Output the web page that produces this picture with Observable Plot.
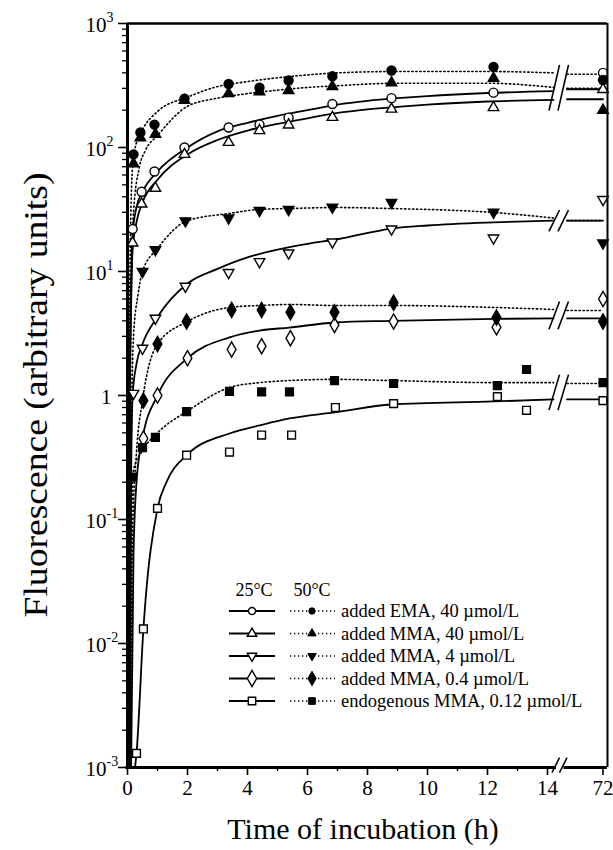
<!DOCTYPE html>
<html><head><meta charset="utf-8">
<script src="https://cdn.jsdelivr.net/npm/d3@7"></script>
<script src="https://cdn.jsdelivr.net/npm/@observablehq/plot@0.6"></script>
<style>body{margin:0;background:#fff}#chart{width:613px;height:850px}</style>
</head><body><div id="chart"></div>
<script>
// ---------- DATA ----------
// measured points: [time (h), fluorescence]
const ema40_25 = [[0.17,22],[0.47,44],[0.9,64],[1.9,100],[3.37,145],[4.4,153],[5.37,174],[6.83,224],[8.8,250],[12.2,277],[72,400]];
const ema40_50 = [[0.2,88],[0.43,132],[0.9,153],[1.9,248],[3.37,325],[4.4,303],[5.37,347],[6.83,375],[8.8,418],[12.2,447],[72,350]];
const mma40_25 = [[0.17,17],[0.47,35],[0.93,47],[1.9,88],[3.37,110],[4.4,137],[5.37,152],[6.83,175],[8.8,204],[12.2,210],[72,294]];
const mma40_50 = [[0.2,74],[0.43,120],[0.93,128],[1.9,240],[3.37,272],[4.4,282],[5.37,288],[6.83,310],[8.8,333],[12.2,362],[72,200]];
const mma4_25 = [[0.2,1.04],[0.5,2.4],[0.93,4.2],[1.93,7.6],[3.37,9.8],[4.4,12],[5.37,14.1],[6.83,17.3],[8.8,22],[12.2,18.6],[72,38]];
const mma4_50 = [[0.5,10],[0.93,15],[1.93,25.6],[3.37,27],[4.4,31],[5.37,31.6],[6.83,33],[8.8,36],[12.2,30],[72,17]];
const mma04_25 = [[0.53,0.45],[1.0,1.0],[2.0,2.0],[3.47,2.35],[4.47,2.5],[5.43,2.9],[6.9,3.7],[8.87,3.95],[12.3,3.55],[72,6]];
const mma04_50 = [[0.53,0.91],[1.0,2.6],[1.97,3.95],[3.47,4.9],[4.47,4.9],[5.43,4.7],[6.9,4.7],[8.87,5.6],[12.3,4.25],[72,3.95]];
const endo_25 = [[0.3,0.0013],[0.53,0.0131],[1.0,0.123],[1.97,0.33],[3.4,0.35],[4.47,0.48],[5.47,0.48],[6.93,0.80],[8.87,0.86],[12.33,0.98],[13.3,0.76],[72,0.91]];
const endo_50 = [[0.17,0.22],[0.5,0.38],[0.93,0.46],[1.97,0.74],[3.4,1.08],[4.47,1.07],[5.4,1.07],[6.9,1.32],[8.87,1.25],[12.33,1.2],[13.3,1.62],[72,1.27]];

// fitted curves (before and after the axis break)
const fitEma40_25 = [[0.03,0.001],[0.08,1.5],[0.12,8],[0.17,20],[0.3,33],[0.5,44],[1,64],[2,100],[3,135],[4,158],[5,180],[6,200],[7,222],[8,238],[9,250],[10,260],[12,275],[14.2,285],[14.65,295],[72,295]];
const fitMma40_25 = [[0.04,0.001],[0.09,1.5],[0.13,7],[0.17,15],[0.3,25],[0.5,36],[1,55],[2,88],[3,115],[4,137],[5,155],[6,172],[7,190],[8,203],[9,213],[10,222],[12,235],[14.2,242],[14.65,245],[72,245]];
const fitEma40_50 = [[0.02,0.001],[0.06,2],[0.1,20],[0.17,70],[0.3,110],[0.5,140],[1,195],[2,255],[3,310],[4,340],[5,365],[6,385],[7,400],[9,410],[12,410],[14.2,400],[14.65,390],[72,390]];
const fitMma40_50 = [[0.05,0.001],[0.1,2],[0.2,30],[0.4,70],[0.6,95],[1,125],[2,215],[3,250],[4,272],[5,290],[6,305],[7,315],[9,330],[12,330],[14.2,305],[14.65,300],[72,300]];
const fitMma4_25 = [[0.08,0.001],[0.12,0.2],[0.17,1.0],[0.3,1.8],[0.5,2.6],[1,4.3],[2,8.0],[3,10.5],[4,13],[5,15],[6,16.7],[7,18.2],[8.8,22.2],[10,23.5],[12.2,24.9],[14.2,25.7],[14.65,25.7],[72,25.7]];
const fitMma4_50 = [[0.07,0.001],[0.12,0.3],[0.2,3],[0.35,6.5],[0.5,10],[1,15.3],[2,25.7],[3.4,29.4],[4.4,31.7],[5.4,32.2],[6.9,32.8],[8.8,32.2],[12.2,29.9],[14.2,27],[14.65,25.7],[72,25.7]];
const fitMma04_25 = [[0.12,0.001],[0.2,0.05],[0.3,0.2],[0.5,0.45],[1,1.0],[2,2.0],[3.4,2.94],[4.4,3.34],[5.4,3.53],[6.9,3.88],[8.8,4.0],[12.2,4.15],[14.2,4.18],[14.65,4.18],[72,4.18]];
const fitMma04_50 = [[0.1,0.001],[0.17,0.08],[0.3,0.35],[0.5,0.91],[1,2.6],[2,3.95],[3.4,5.13],[4.4,5.32],[5.4,5.42],[6.9,5.32],[8.8,5.32],[12.2,5.13],[14.2,4.94],[14.65,4.85],[72,4.85]];
const fitEndo_25 = [[0.25,0.001],[0.3,0.0013],[0.53,0.0131],[1.0,0.123],[1.3,0.2],[1.97,0.33],[3.4,0.494],[4.4,0.573],[5.4,0.653],[6.9,0.73],[8.8,0.846],[12.2,0.895],[14.2,0.93],[14.65,0.93],[72,0.93]];
const fitEndo_50 = [[0.08,0.001],[0.14,0.1],[0.2,0.25],[0.5,0.36],[1,0.5],[2,0.75],[3.4,1.16],[4.4,1.27],[5.4,1.32],[6.9,1.35],[8.8,1.32],[12.2,1.27],[14.2,1.27],[14.65,1.25],[72,1.25]];

const legendLabels = ["added EMA, 40 \u00b5mol/L","added MMA, 40 \u00b5mol/L","added MMA, 4 \u00b5mol/L","added MMA, 0.4 \u00b5mol/L","endogenous MMA, 0.12 \u00b5mol/L"];
const xTickTimes = [0,2,4,6,8,10,12,14,72];
const xTickLabels = ["0","2","4","6","8","10","12","14","72"];
const xMinorTimes = [1,3,5,7,9,11,13];
const yMajor = [1e-3,1e-2,1e-1,1,10,100,1000];
const yBase = ["10","10","10","1","10","10","10"];
const yExp = ["-3","-2","-1","","1","2","3"];

// ---------- layout ----------
const SERIF = "'Liberation Serif','Times New Roman',serif";
const X72 = 15.85;               // position of the 72 h point after the axis break
const xv = t => t > 20 ? X72 : t;
const triDown = {draw(ctx, size){ const y = -Math.sqrt(size/(Math.sqrt(3)*3)); ctx.moveTo(0,-y*2); ctx.lineTo(-Math.sqrt(3)*y, y); ctx.lineTo(Math.sqrt(3)*y, y); ctx.closePath(); }};
const symbols = ["circle","triangle",triDown,"diamond","square"];
const radii = [4.5,3.9,3.9,4.6,4.4];

const series = [
  {pts: ema40_25, fit: fitEma40_25, k:0, hot:false},
  {pts: ema40_50, fit: fitEma40_50, k:0, hot:true},
  {pts: mma40_25, fit: fitMma40_25, k:1, hot:false},
  {pts: mma40_50, fit: fitMma40_50, k:1, hot:true},
  {pts: mma4_25, fit: fitMma4_25, k:2, hot:false},
  {pts: mma4_50, fit: fitMma4_50, k:2, hot:true},
  {pts: mma04_25, fit: fitMma04_25, k:3, hot:false},
  {pts: mma04_50, fit: fitMma04_50, k:3, hot:true},
  {pts: endo_25, fit: fitEndo_25, k:4, hot:false},
  {pts: endo_50, fit: fitEndo_50, k:4, hot:true}
];
const groups = [[0,1,2,3],[4,5],[6,7],[8,9]];
const slashes = [];
for (const g of groups) {
  const vals = g.map(i => series[i].fit.filter(d => d[0] <= 14.3).at(-1)[1]);
  const lo = d3.min(vals)/1.22, hi = d3.max(vals)*1.16;
  slashes.push({x1:14.05,x2:14.4,y1:lo,y2:hi},{x1:14.35,x2:14.7,y1:lo,y2:hi});
}
slashes.push({x1:14.15,x2:14.4,y1:1e-3/1.1,y2:1e-3*1.2},{x1:14.4,x2:14.65,y1:1e-3/1.1,y2:1e-3*1.2});

const minorY = [];
for (let e=-3; e<3; e++) for (let m=2; m<10; m++) minorY.push(m*Math.pow(10,e));
const yLabels = yMajor.map((v,i)=>({v, base:yBase[i], exp:yExp[i]}));

const marks = [];
for (const s of series) {
  const pre = s.fit.filter(d => d[0] <= 14.3), post = s.fit.filter(d => d[0] >= 14.5);
  for (const seg of [pre, post]) {
    marks.push(Plot.line(seg, {x: d=>xv(d[0]), y: d=>d[1], curve:"monotone-x", stroke:"black",
      strokeWidth: s.hot ? 1.6 : 1.8, strokeDasharray: s.hot ? "1.3,2.7" : null}));
  }
}
marks.push(Plot.link(slashes, {x1:"x1",x2:"x2",y1:"y1",y2:"y2",stroke:"black",strokeWidth:1.6}));
for (const s of series) {
  marks.push(Plot.dot(s.pts, {x: d=>xv(d[0]), y: d=>d[1], symbol: symbols[s.k], r: radii[s.k],
    fill: s.hot ? "black" : "white", stroke:"black", strokeWidth:1.4}));
}
// frame
marks.push(Plot.ruleX([0], {stroke:"black", strokeWidth:3}));
marks.push(Plot.ruleX([16], {stroke:"black", strokeWidth:2}));
marks.push(Plot.ruleY([1000], {stroke:"black", strokeWidth:2.5}));
marks.push(Plot.ruleY([{x1:-0.05,x2:14.3},{x1:14.55,x2:16}], {y: ()=>1e-3, x1:"x1", x2:"x2", stroke:"black", strokeWidth:3}));
// axes
marks.push(Plot.axisX({ticks: xTickTimes.map(xv), tickSize: 8, tickPadding: 5, strokeWidth: 1.6,
  tickFormat: d => xTickLabels[xTickTimes.map(xv).indexOf(d)], fontSize: 21, fontFamily: SERIF}));
marks.push(Plot.axisX({ticks: xMinorTimes, tickSize: 4, strokeWidth: 1.4, tickFormat: () => ""}));
marks.push(Plot.axisY({ticks: yMajor, tickSize: 9, strokeWidth: 1.6, tickFormat: () => ""}));
marks.push(Plot.axisY({ticks: minorY, tickSize: 5, strokeWidth: 1.3, tickFormat: () => ""}));
marks.push(Plot.text(yLabels.filter(d=>d.exp), {y:"v", frameAnchor:"left", text:"base", textAnchor:"end", dx:-21, dy:2, fontSize:21, fontFamily:SERIF}));
marks.push(Plot.text(yLabels.filter(d=>d.exp), {y:"v", frameAnchor:"left", text:"exp", textAnchor:"start", dx:-21, dy:-6, fontSize:14, fontFamily:SERIF}));
marks.push(Plot.text(yLabels.filter(d=>!d.exp), {y:"v", frameAnchor:"left", text:"base", textAnchor:"end", dx:-16, dy:2, fontSize:21, fontFamily:SERIF}));

const plot = Plot.plot({
  width: 613, height: 850,
  marginLeft: 127, marginRight: 6, marginTop: 23, marginBottom: 83,
  x: {type:"linear", domain:[0,16], label:null},
  y: {type:"log", domain:[1e-3,1e3], label:null},
  style: {fontFamily: SERIF, fontSize: "20px", background: "white", overflow: "visible"},
  marks
});
document.getElementById("chart").appendChild(plot);

// ---------- titles & legend ----------
const svg = d3.select(plot);
svg.append("text").attr("transform","translate(47,395) rotate(-90)").attr("text-anchor","middle")
  .attr("font-family",SERIF).attr("font-size",33).attr("fill","black")
  .attr("textLength",445).attr("lengthAdjust","spacingAndGlyphs").text("Fluorescence (arbitrary units)");
svg.append("text").attr("x",363).attr("y",839).attr("text-anchor","middle")
  .attr("font-family",SERIF).attr("font-size",30).attr("fill","black").text("Time of incubation (h)");

const lg = svg.append("g").attr("font-family",SERIF).attr("fill","black");
lg.append("text").attr("x",254).attr("y",596).attr("text-anchor","middle").attr("font-size",18).text("25\u00b0C");
lg.append("text").attr("x",312).attr("y",596).attr("text-anchor","middle").attr("font-size",18).text("50\u00b0C");
const d3sym = [d3.symbolCircle, d3.symbolTriangle, triDown, d3.symbolDiamond, d3.symbolSquare];
const lgSizes = [40, 38, 38, 75, 55];
legendLabels.forEach((lab, i) => {
  const y = 611 + i*22.5;
  lg.append("line").attr("x1",229).attr("x2",275).attr("y1",y).attr("y2",y).attr("stroke","black").attr("stroke-width",1.8);
  lg.append("path").attr("d", d3.symbol(d3sym[i], lgSizes[i])()).attr("transform",`translate(252,${y})`)
    .attr("fill","white").attr("stroke","black").attr("stroke-width",1.4);
  lg.append("line").attr("x1",290).attr("x2",335).attr("y1",y).attr("y2",y).attr("stroke","black").attr("stroke-width",1.5).attr("stroke-dasharray","1.3,2.7");
  lg.append("path").attr("d", d3.symbol(d3sym[i], lgSizes[i]*0.8)()).attr("transform",`translate(312,${y})`)
    .attr("fill","black").attr("stroke","black").attr("stroke-width",1);
  lg.append("text").attr("x",341).attr("y",y+6).attr("text-anchor","start").attr("font-size",18.5).text(lab);
});
</script></body></html>
